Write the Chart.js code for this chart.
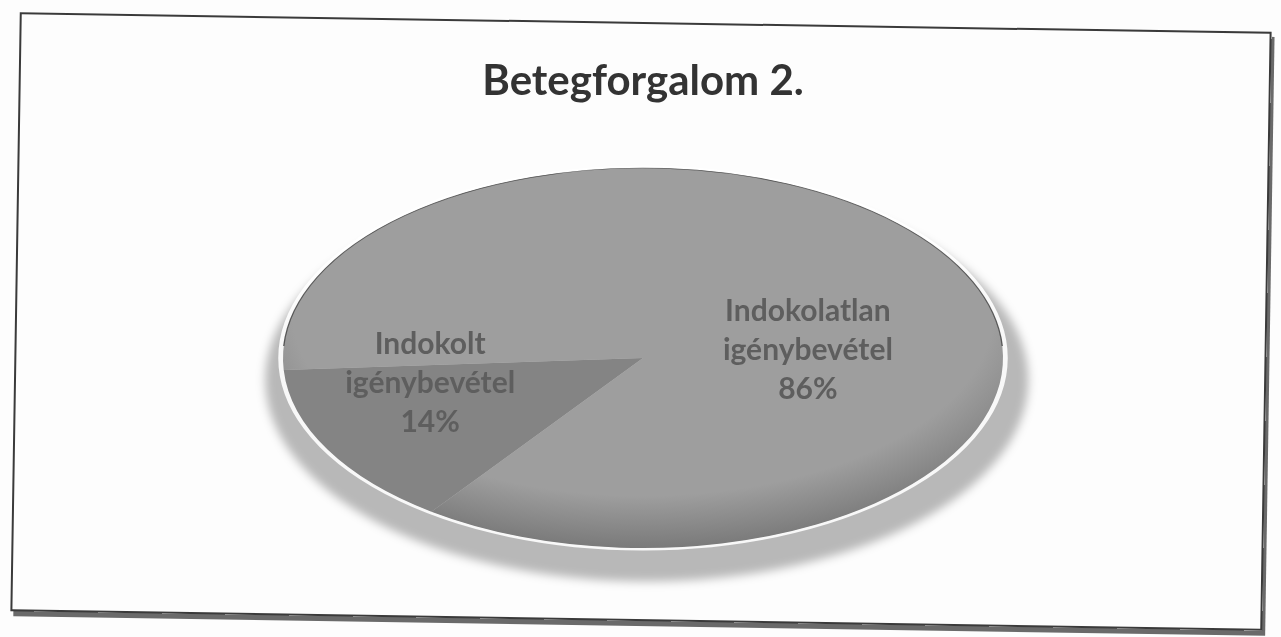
<!DOCTYPE html>
<html>
<head>
<meta charset="utf-8">
<script src="https://cdn.jsdelivr.net/npm/chart.js@4.4.1/dist/chart.umd.min.js"></script>
<style>
  html, body { margin: 0; padding: 0; background: #fdfdfd; }
  #wrap { position: relative; width: 1281px; height: 637px; overflow: hidden; }
  #frame {
    position: absolute; left: 15px; top: 22px; width: 1248px; height: 595px;
    border: 2px solid #3a3a3a;
    box-shadow: 3px 5px 0 #6a6a6a;
    transform: rotate(0.9deg);
  }
  canvas { position: absolute; left: 0; top: 0; }
</style>
</head>
<body>
<div id="wrap">
  <div id="frame"></div>
  <canvas id="pieChart" width="1281" height="637"></canvas>
</div>
<script>
const chartTitle = 'Betegforgalom 2.';
const categories = ['Indokolt igénybevétel', 'Indokolatlan igénybevétel'];
const labelLines = [['Indokolt', 'igénybevétel'], ['Indokolatlan', 'igénybevétel']];
const shares = [14, 86];
const sliceColors = ['#848484', '#9e9e9e'];
const sliceEdges = ['#6e6e6e', '#7a7a7a'];

// squash the round pie into the flat ellipse of the picture
const ellipsePie = {
    id: 'ellipsePie',
    beforeDatasetsDraw(chart, args, opts) {
        const arc = chart.getDatasetMeta(0).data[0];
        if (!arc) return;
        const ctx = chart.ctx;
        const { x, y, outerRadius } = arc;
        ctx.save();
        ctx.translate(x, y);
        ctx.scale(opts.stretch, 1);
        ctx.translate(-x, -y);

        // soft shadow under the pie
        ctx.save();
        ctx.filter = 'blur(5px)';
        ctx.fillStyle = 'rgba(0,0,0,0.27)';
        ctx.beginPath();
        ctx.arc(x + 2, y + 22, outerRadius * 1.06, 0, Math.PI * 2);
        ctx.fill();
        ctx.restore();

        // thin light rim between pie and shadow
        ctx.save();
        ctx.strokeStyle = 'rgba(255,255,255,0.9)';
        ctx.lineWidth = 3;
        ctx.beginPath();
        ctx.arc(x, y, outerRadius + 1, 0, Math.PI * 2);
        ctx.stroke();
        ctx.restore();
    },
    afterDatasetsDraw(chart, args, opts) {
        const meta = chart.getDatasetMeta(0);
        if (!meta.data.length) return;
        const ctx = chart.ctx;

        // dark outline on the upper rim
        const first = meta.data[0];
        ctx.save();
        ctx.strokeStyle = 'rgba(60,60,60,0.8)';
        ctx.lineWidth = 0.7;
        ctx.beginPath();
        ctx.arc(first.x, first.y, first.outerRadius, Math.PI * 1.02, Math.PI * 1.98);
        ctx.stroke();
        ctx.restore();
        ctx.restore();

        ctx.save();
        ctx.font = opts.font;
        ctx.fillStyle = opts.color;
        ctx.textAlign = 'center';
        ctx.textBaseline = 'middle';
        meta.data.forEach((el, i) => {
            const a = el.startAngle + (el.endAngle - el.startAngle) * opts.along[i];
            const r = el.outerRadius * opts.depth[i];
            const px = el.x + Math.cos(a) * r * opts.stretch;
            const py = el.y + Math.sin(a) * r;
            const lines = labelLines[i].concat([shares[i] + '%']);
            lines.forEach((t, k) => {
                ctx.fillText(t, px, py + (k - (lines.length - 1) / 2) * opts.lineGap);
            });
        });
        ctx.restore();
    }
};

function sliceFill(context) {
    const chart = context.chart;
    const arc = chart.getDatasetMeta(0).data[0];
    const i = context.dataIndex;
    if (!arc || !arc.outerRadius) return sliceColors[i];
    const r = arc.outerRadius;
    const g = chart.ctx.createRadialGradient(arc.x, arc.y - r * 0.25, 0, arc.x, arc.y - r * 0.25, r * 1.25);
    g.addColorStop(0, sliceColors[i]);
    g.addColorStop(0.78, sliceColors[i]);
    g.addColorStop(1, sliceEdges[i]);
    return g;
}

const ctx = document.getElementById('pieChart').getContext('2d');
const pieChart = new Chart(ctx, {
    type: 'pie',
    data: {
        labels: categories,
        datasets: [{
            data: shares,
            backgroundColor: sliceFill,
            borderWidth: 0,
            clip: false
        }]
    },
    plugins: [ellipsePie],
    options: {
        responsive: false,
        animation: false,
        rotation: 216,
        layout: { padding: { top: 0, bottom: 89, left: 5, right: 0 } },
        plugins: {
            legend: { display: false },
            tooltip: { enabled: false },
            title: {
                display: true,
                text: chartTitle,
                color: '#333333',
                font: { family: 'Lato', size: 42, weight: 'bold', lineHeight: 1.2 },
                padding: { top: 56, bottom: 61.6 }
            },
            ellipsePie: {
                stretch: 360 / 190,
                along: [0.82, 0.576],
                depth: [0.606, 0.46],
                font: 'bold 30px Lato',
                color: '#5e5e5e',
                lineGap: 39
            }
        }
    }
});
</script>
</body>
</html>
